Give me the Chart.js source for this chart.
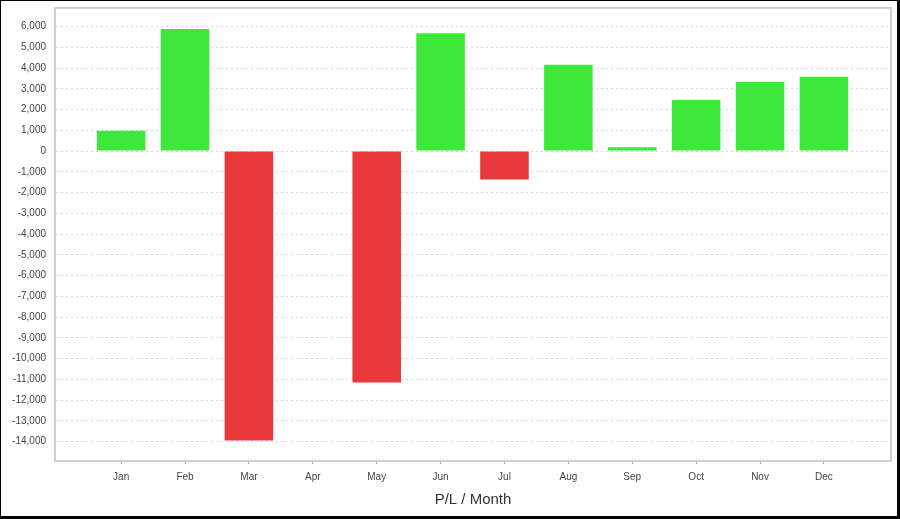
<!DOCTYPE html>
<html>
<head>
<meta charset="utf-8">
<style>
  html, body { margin: 0; padding: 0; background: #fff; }
  #wrap { width: 900px; height: 519px; position: relative; }
</style>
<script src="https://cdn.jsdelivr.net/npm/chart.js@4/dist/chart.umd.min.js"></script>
</head>
<body>
<div id="wrap"><canvas id="plChart" width="900" height="519"></canvas></div>
<script>
const months = ["Jan", "Feb", "Mar", "Apr", "May", "Jun", "Jul", "Aug", "Sep", "Oct", "Nov", "Dec"];
const profitLoss = [980, 5890, -13950, 0, -11150, 5680, -1370, 4160, 190, 2460, 3340, 3590];
const yTickValues = [6000, 5000, 4000, 3000, 2000, 1000, 0, -1000, -2000, -3000, -4000, -5000, -6000,
  -7000, -8000, -9000, -10000, -11000, -12000, -13000, -14000];
const axisTitle = "P/L / Month";

const GREEN = "#3ce93a";
const RED = "#e8383c";

// light frame around the plot, black frame around the whole picture
const frames = {
  id: "frames",
  beforeDatasetsDraw(chart) {
    const { ctx, chartArea: a } = chart;
    ctx.save();
    ctx.strokeStyle = "#cfcfcf";
    ctx.lineWidth = 2;
    ctx.strokeRect(a.left, a.top, a.right - a.left, a.bottom - a.top);
    ctx.restore();
  },
  afterDraw(chart) {
    const ctx = chart.ctx;
    ctx.save();
    ctx.fillStyle = "#000";
    ctx.fillRect(0, 0, 900, 1);
    ctx.fillRect(0, 0, 1, 519);
    ctx.fillRect(897, 0, 3, 519);
    ctx.fillRect(0, 516, 900, 3);
    ctx.restore();
  }
};

new Chart(document.getElementById("plChart"), {
  type: "bar",
  data: {
    datasets: [{
      data: months.map((m, i) => ({ x: i, y: profitLoss[i] })),
      backgroundColor: profitLoss.map(v => v >= 0 ? GREEN : RED),
      borderWidth: 0,
      categoryPercentage: 1,
      barPercentage: 0.76
    }]
  },
  options: {
    responsive: false,
    animation: false,
    devicePixelRatio: 1,
    layout: { padding: { top: 8, right: 9, left: 0, bottom: 0 } },
    plugins: { legend: { display: false }, tooltip: { enabled: false } },
    scales: {
      x: {
        type: "linear",
        offset: false,
        min: -1.035,
        max: 12.05,
        afterBuildTicks: s => { s.ticks = months.map((m, i) => ({ value: i })); },
        afterFit: s => { s.height = 58; s.paddingLeft = 0; s.paddingRight = 0; },
        ticks: {
          callback: v => months[v] || "",
          font: { family: "Arial, 'Liberation Sans'", size: 10 },
          color: "#444",
          padding: 7,
          maxRotation: 0,
          autoSkip: false
        },
        grid: { offset: false, drawOnChartArea: false, drawTicks: true, tickLength: 3, color: "#aaa" },
        border: { color: "#b0b0b0", width: 2 },
        title: {
          display: true,
          text: axisTitle,
          font: { family: "Arial, 'Liberation Sans'", size: 15 },
          color: "#333",
          padding: { top: 0, bottom: 10 }
        }
      },
      y: {
        min: -14940,
        max: 6900,
        afterBuildTicks: s => { s.ticks = yTickValues.map(v => ({ value: v })); },
        afterFit: s => { s.width = 55; s.paddingTop = 0; s.paddingBottom = 0; },
        ticks: {
          callback: v => v.toLocaleString("en-US"),
          font: { family: "Arial, 'Liberation Sans'", size: 10 },
          color: "#444",
          padding: 9,
          autoSkip: false
        },
        grid: { color: "#d4d4d4", drawTicks: false, lineWidth: 1 },
        border: { color: "#b0b0b0", width: 2, dash: [2, 3] }
      }
    }
  },
  plugins: [frames]
});
</script>
</body>
</html>
